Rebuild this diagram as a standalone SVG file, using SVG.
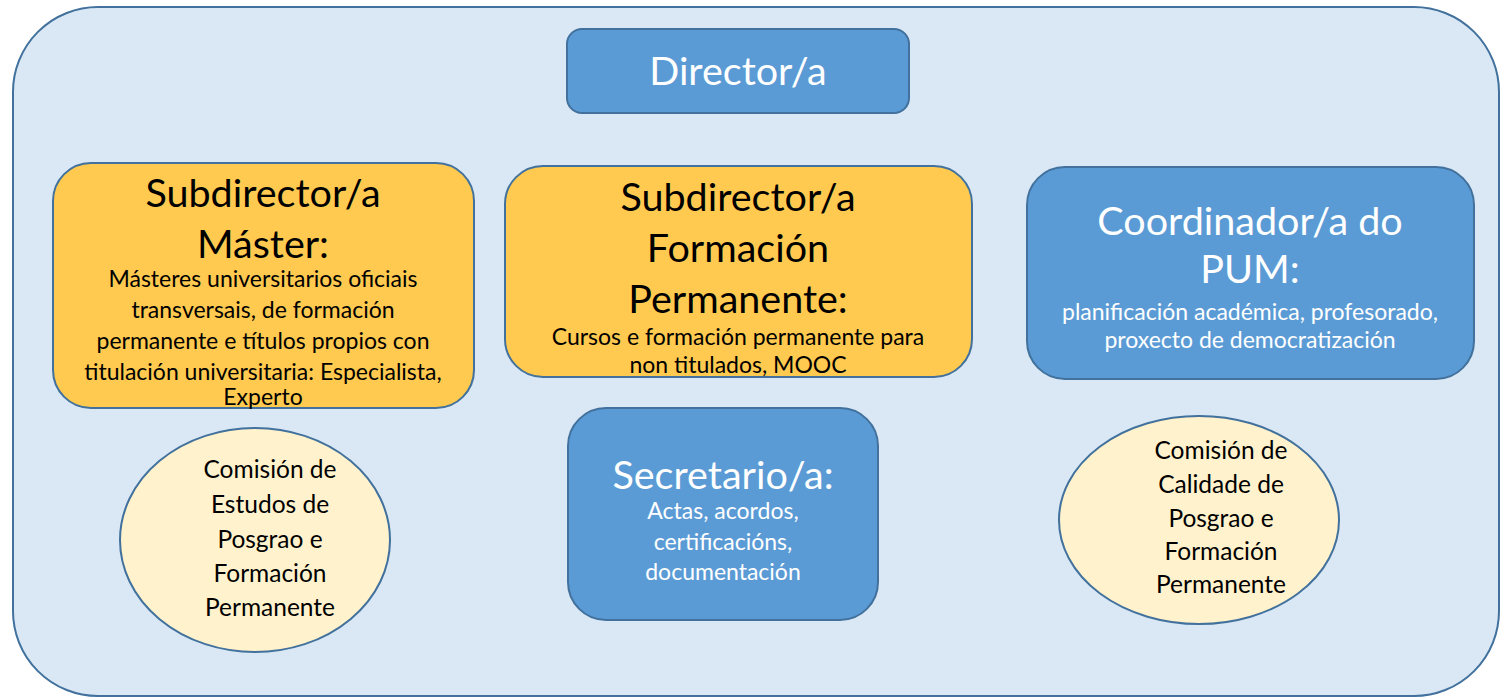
<svg xmlns="http://www.w3.org/2000/svg" width="1501" height="699" viewBox="0 0 1501 699">
<style>
.blue{fill:#5b9bd5;stroke:#41719c;stroke-width:2}
.yel{fill:#ffca4f;stroke:#41719c;stroke-width:2}
.ell{fill:#fff2cc;stroke:#41719c;stroke-width:2}
text{font-family:Lato,"Open Sans","Liberation Sans",sans-serif;text-anchor:middle}
.w{fill:#ffffff}
.k{fill:#000000}
.big{font-size:39.5px}
.sm{font-size:23px}
.md{font-size:24.5px}
</style>
<rect x="13" y="7" width="1486" height="689" rx="85" ry="85" fill="#dae8f5" stroke="#41719c" stroke-width="2"/>
<g id="connectors"></g>
<g id="director">
<rect class="blue" x="567" y="29" width="342" height="84" rx="15"/>
<text class="w big" x="738" y="85">Director/a</text>
</g>
<g id="subdirector-master">
<rect class="yel" x="53" y="163" width="421" height="245" rx="38"/>
<text class="k big" x="263" y="207">Subdirector/a</text>
<text class="k big" x="263" y="258">Máster:</text>
<text class="k sm" x="263" y="287">Másteres universitarios oficiais</text>
<text class="k sm" x="263" y="318">transversais, de formación</text>
<text class="k sm" x="263" y="349">permanente e títulos propios con</text>
<text class="k sm" x="263" y="380">titulación universitaria: Especialista,</text>
<text class="k sm" x="263" y="405">Experto</text>
</g>
<g id="subdirector-fp">
<rect class="yel" x="505" y="166" width="467" height="211" rx="38"/>
<text class="k big" x="738" y="211">Subdirector/a</text>
<text class="k big" x="738" y="262">Formación</text>
<text class="k big" x="738" y="313">Permanente:</text>
<text class="k sm" x="738" y="345">Cursos e formación permanente para</text>
<text class="k sm" x="738" y="373">non titulados, MOOC</text>
</g>
<g id="coordinador">
<rect class="blue" x="1027" y="167" width="447" height="212" rx="38"/>
<text class="w big" x="1250" y="235">Coordinador/a do</text>
<text class="w big" x="1250" y="283">PUM:</text>
<text class="w sm" x="1250" y="320">planificación académica, profesorado,</text>
<text class="w sm" x="1250" y="348">proxecto de democratización</text>
</g>
<g id="comision-estudos">
<ellipse class="ell" cx="255" cy="540" rx="135" ry="112"/>
<text class="k md" x="270" y="478">Comisión de</text>
<text class="k md" x="270" y="513">Estudos de</text>
<text class="k md" x="270" y="548">Posgrao e</text>
<text class="k md" x="270" y="582">Formación</text>
<text class="k md" x="270" y="616">Permanente</text>
</g>
<g id="secretario">
<rect class="blue" x="568" y="408" width="310" height="212" rx="38"/>
<text class="w big" x="723" y="489">Secretario/a:</text>
<text class="w sm" x="723" y="519">Actas, acordos,</text>
<text class="w sm" x="723" y="550">certificacións,</text>
<text class="w sm" x="723" y="580">documentación</text>
</g>
<g id="comision-calidade">
<ellipse class="ell" cx="1199" cy="520" rx="140" ry="104"/>
<text class="k md" x="1221" y="459">Comisión de</text>
<text class="k md" x="1221" y="493">Calidade de</text>
<text class="k md" x="1221" y="527">Posgrao e</text>
<text class="k md" x="1221" y="560">Formación</text>
<text class="k md" x="1221" y="593">Permanente</text>
</g>
</svg>
